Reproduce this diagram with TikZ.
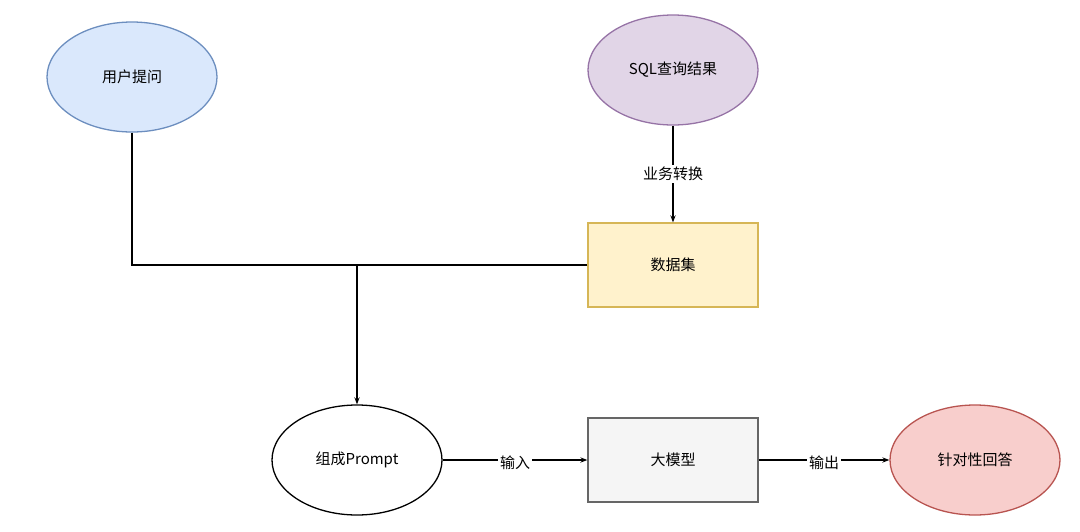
\documentclass[tikz,border=0pt]{standalone}
\usepackage{fontspec}
\setmainfont{Noto Sans CJK SC}
\usetikzlibrary{shapes.geometric,arrows.meta}
\definecolor{bluef}{HTML}{DAE8FC}\definecolor{blued}{HTML}{6C8EBF}
\definecolor{purf}{HTML}{E1D5E7}\definecolor{purd}{HTML}{9673A6}
\definecolor{yelf}{HTML}{FFF2CC}\definecolor{yeld}{HTML}{D6B656}
\definecolor{grf}{HTML}{F5F5F5}\definecolor{grd}{HTML}{666666}
\definecolor{redf}{HTML}{F8CECC}\definecolor{redd}{HTML}{B85450}
\begin{document}
\begin{tikzpicture}[x=1pt,y=-1pt,
  every node/.style={font=\fontsize{15}{18}\selectfont},
  ell/.style={ellipse,minimum width=170pt,minimum height=110pt,line width=1.3pt,inner sep=0},
  box/.style={rectangle,minimum width=170pt,minimum height=84pt,line width=1.3pt},
  con/.style={line width=1.3pt},
  arr/.style={con,-{Stealth[length=7pt]}},
  lab/.style={fill=white,inner sep=2pt}]
\useasboundingbox (0,0) rectangle (1080,531);
\node[ell,draw=blued,fill=bluef] (q) at (132,77) {用户提问};
\node[ell,draw=purd,fill=purf] (s) at (673,70) {SQL查询结果};
\node[box,draw=yeld,fill=yelf] (d) at (673,265) {数据集};
\node[ell,draw=black,fill=white] (p) at (357,460) {组成Prompt};
\node[box,draw=grd,fill=grf] (m) at (673,460) {大模型};
\node[ell,draw=redd,fill=redf] (r) at (975,460) {针对性回答};
\coordinate (j) at (357,265);
\draw[con] (q.south) |- (j);
\draw[con] (d.west) -- (j);
\draw[arr] (j) -- (p.north);
\draw[arr] (s.south) -- node[lab]{业务转换} (d.north);
\draw[arr] (p.east) -- node[lab,pos=0.5,yshift=-3pt]{输入} (m.west);
\draw[arr] (m.east) -- node[lab,pos=0.5,yshift=-3pt]{输出} (r.west);
\end{tikzpicture}
\end{document}
